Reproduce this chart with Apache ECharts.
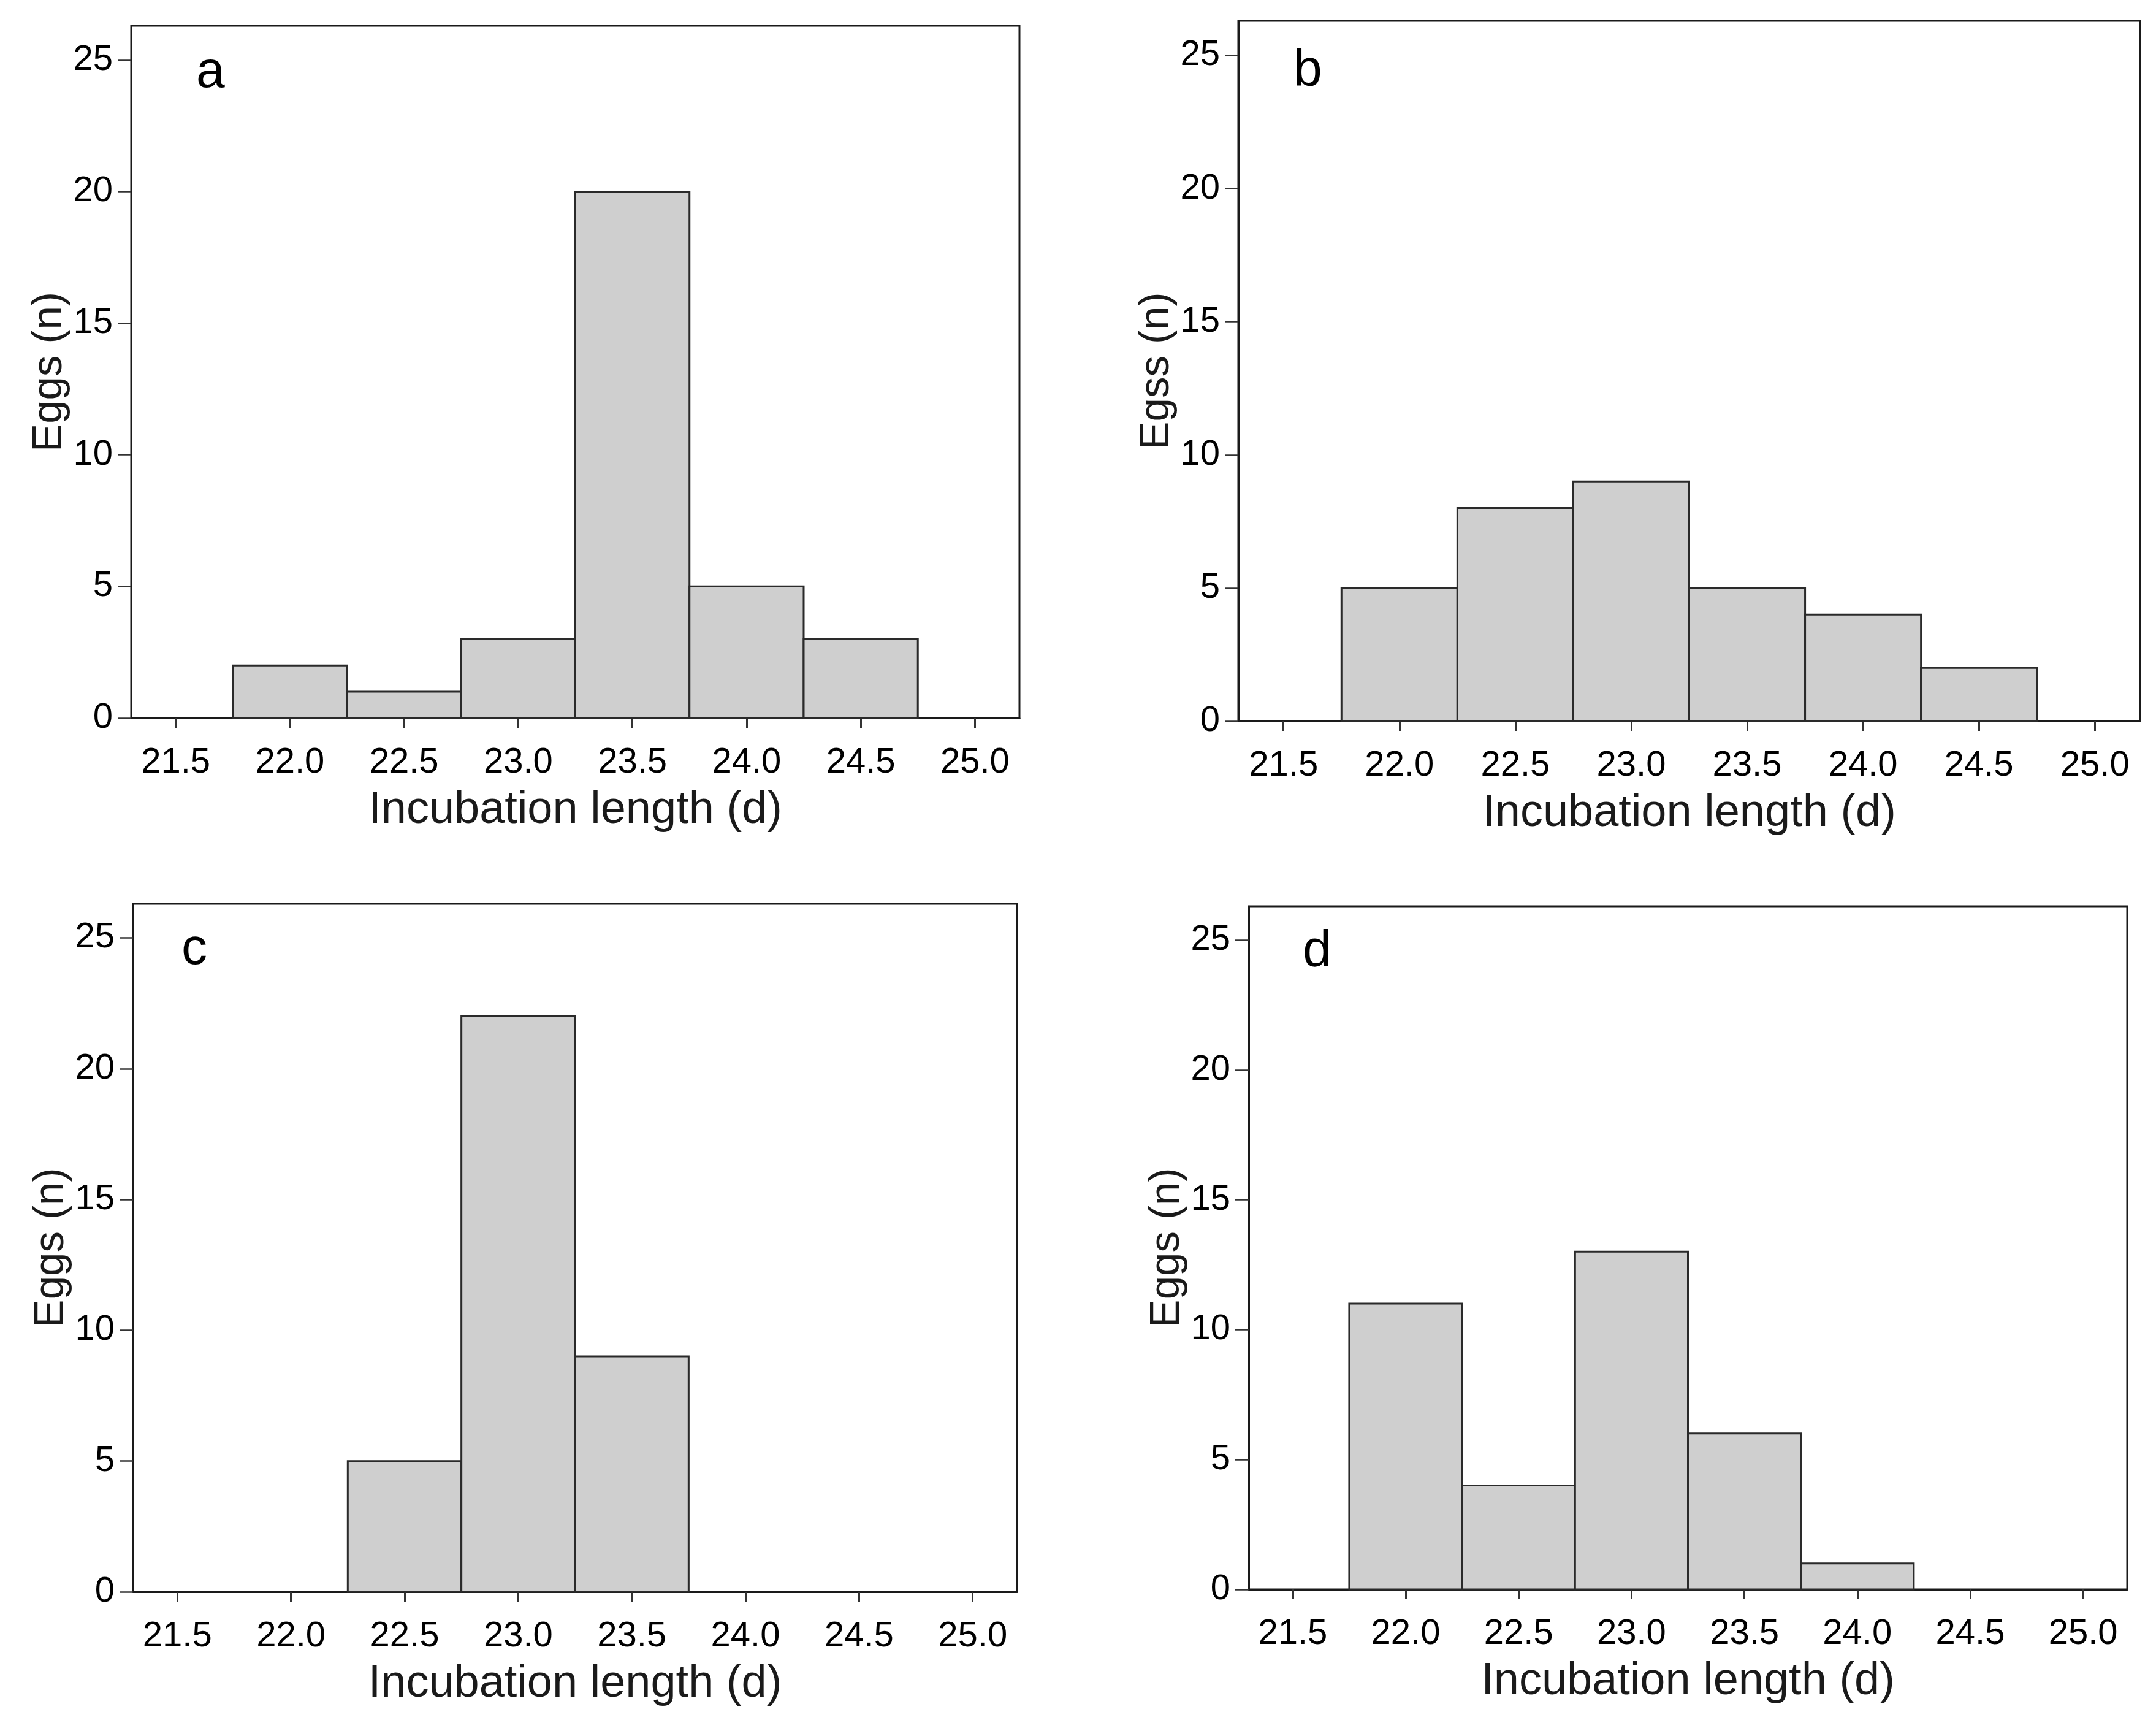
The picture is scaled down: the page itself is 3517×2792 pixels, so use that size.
<!DOCTYPE html>
<html>
<head>
<meta charset="utf-8">
<script src="https://cdn.jsdelivr.net/npm/echarts@6/dist/echarts.min.js"></script>
<style>
html,body{margin:0;padding:0;background:#fff;}
#chart{width:3517px;height:2792px;}
</style>
</head>
<body>
<div id="chart"></div>
<script>
// ---- data ----
const binCenters = [22.0, 22.5, 23.0, 23.5, 24.0, 24.5];
const binWidth = 0.5;
const countsA = [2, 1, 3, 20, 5, 3];
const countsB = [5, 8, 9, 5, 4, 2];
const countsC = [0, 5, 22, 9, 0, 0];
const countsD = [11, 4, 13, 6, 1, 0];
const xTicks = [21.5, 22.0, 22.5, 23.0, 23.5, 24.0, 24.5, 25.0];
const yTicks = [0, 5, 10, 15, 20, 25];
const panelLetters = ['a', 'b', 'c', 'd'];
const yTitles = ['Eggs (n)', 'Egss (n)', 'Eggs (n)', 'Eggs (n)'];
const xTitle = 'Incubation length (d)';

// ---- layout ----
const grids = [
  {left: 214, top: 42, width: 1449, height: 1129},
  {left: 2020, top: 34, width: 1471, height: 1142},
  {left: 217, top: 1474, width: 1442, height: 1122},
  {left: 2037, top: 1478, width: 1433, height: 1114}
];
const letterPos = [[320, 119], [2110, 117], [296, 1549], [2125, 1553]];
const allCounts = [countsA, countsB, countsC, countsD];

const FONT = '"Liberation Sans", Arial, sans-serif';
const INK = '#1a1a1a';

const option = {
  backgroundColor: '#ffffff',
  animation: false,
  grid: grids.map(g => Object.assign({show: true, borderColor: INK, borderWidth: 3, backgroundColor: 'transparent'}, g)),
  xAxis: grids.map((g, i) => ({
    type: 'value', gridIndex: i, min: 21.305, max: 25.195,
    name: xTitle, nameLocation: 'middle', nameGap: 114,
    nameTextStyle: {fontFamily: FONT, fontSize: 74, color: INK},
    axisLine: {show: true, onZero: false, lineStyle: {color: INK, width: 3}},
    axisTick: {show: true, length: 16, customValues: xTicks, lineStyle: {color: '#333', width: 3}},
    axisLabel: {show: true, customValues: xTicks, margin: 44, fontFamily: FONT, fontSize: 58, color: '#000',
      formatter: v => Number(v).toFixed(1)},
    splitLine: {show: false}
  })),
  yAxis: grids.map((g, i) => ({
    type: 'value', gridIndex: i, min: 0, max: 26.3,
    name: yTitles[i], nameLocation: 'middle', nameGap: 90,
    nameTextStyle: {fontFamily: FONT, fontSize: 69, color: INK},
    axisLine: {show: true, onZero: false, lineStyle: {color: INK, width: 3}},
    axisTick: {show: true, length: 22, customValues: yTicks, lineStyle: {color: '#333', width: 2.5}},
    axisLabel: {show: true, customValues: yTicks, margin: 30, fontFamily: FONT, fontSize: 58, color: '#000'},
    splitLine: {show: false}
  })),
  graphic: panelLetters.map((t, i) => ({
    type: 'text', left: letterPos[i][0], top: letterPos[i][1] - 42, z: 100,
    style: {text: t, font: '84px ' + FONT, fill: '#000'}
  })),
  series: allCounts.map((counts, i) => ({
    type: 'custom', xAxisIndex: i, yAxisIndex: i,
    data: binCenters.map((c, k) => [c, counts[k]]),
    renderItem: function (params, api) {
      const c = api.value(0), v = api.value(1);
      if (!v) return null;
      const p0 = api.coord([c - binWidth / 2, v]);
      const p1 = api.coord([c + binWidth / 2, 0]);
      return {
        type: 'rect',
        shape: {x: p0[0], y: p0[1], width: p1[0] - p0[0], height: p1[1] - p0[1]},
        style: {fill: '#cfcfcf', stroke: '#2a2a2a', lineWidth: 3}
      };
    }
  }))
};

const chart = echarts.init(document.getElementById('chart'), null, {renderer: 'canvas'});
chart.setOption(option);
</script>
</body>
</html>
